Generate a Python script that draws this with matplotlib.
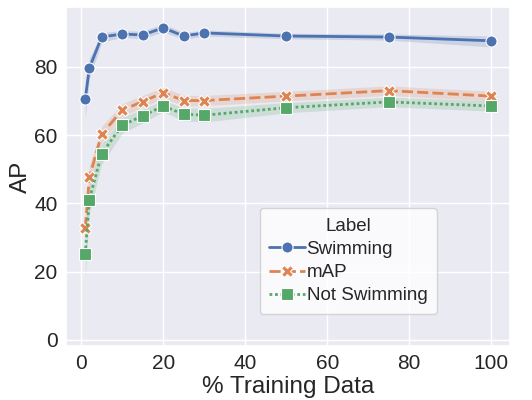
import numpy as np
import matplotlib
matplotlib.use("Agg")
import matplotlib.pyplot as plt
import seaborn as sns

# data
pct = [1, 2, 5, 10, 15, 20, 25, 30, 50, 75, 100]

swim = [70.6, 79.6, 88.7, 89.6, 89.3, 91.4, 89.0, 89.9, 89.0, 88.7, 87.6]
swim_lo = [65.0, 76.5, 87.2, 88.6, 88.2, 90.2, 88.0, 89.0, 88.2, 87.8, 85.8]
swim_hi = [75.5, 82.5, 90.0, 90.6, 90.4, 92.6, 90.0, 90.8, 89.8, 89.6, 89.0]

mAP = [32.7, 47.6, 60.2, 67.3, 69.8, 72.4, 70.1, 70.1, 71.4, 73.0, 71.4]
mAP_lo = [28.5, 44.0, 57.8, 65.5, 68.0, 70.8, 68.5, 68.6, 70.0, 71.6, 70.0]
mAP_hi = [37.0, 51.0, 62.5, 69.2, 71.6, 74.0, 71.6, 71.6, 72.8, 74.4, 72.8]

notswim = [25.2, 41.1, 54.5, 62.9, 65.6, 68.5, 66.1, 65.8, 68.0, 69.7, 68.5]
notswim_lo = [18.5, 37.0, 51.5, 60.5, 63.6, 66.8, 64.2, 63.8, 66.5, 68.3, 67.0]
notswim_hi = [31.5, 45.0, 57.5, 65.2, 67.6, 70.2, 68.0, 67.8, 69.5, 71.1, 70.0]

series = [
    ("Swimming", swim, swim_lo, swim_hi, "o", "-"),
    ("mAP", mAP, mAP_lo, mAP_hi, "X", (0, (4, 1.5))),
    ("Not Swimming", notswim, notswim_lo, notswim_hi, "s", (0, (1, 1))),
]

sns.set_theme(style="darkgrid")
plt.rcParams['font.family'] = ['Liberation Sans', 'DejaVu Sans']
colors = sns.color_palette("deep")

fig = plt.figure(figsize=(5.32, 4.0), dpi=100)
ax = fig.add_subplot(111)
fig.subplots_adjust(left=0.124, right=0.959, top=0.9825, bottom=0.135)

for i, (name, y, lo, hi, mk, ls) in enumerate(series):
    c = colors[i]
    ax.fill_between(pct, lo, hi, color=c, alpha=0.2, linewidth=0)
    ax.plot(pct, y, color=c, linestyle=ls, linewidth=2, marker=mk,
            markersize=8, markeredgecolor="white", markeredgewidth=0.8,
            label=name)

ax.set_xlim(-3.7, 104.6)
ax.set_ylim(-1.8, 97.5)
ax.set_xticks([0, 20, 40, 60, 80, 100])
ax.set_yticks([0, 20, 40, 60, 80])
ax.tick_params(labelsize=15, pad=0)
ax.set_xlabel("% Training Data", fontsize=17.5, labelpad=2)
ax.set_ylabel("AP", fontsize=17.5, labelpad=2)

leg = ax.legend(title="Label", loc="lower left", bbox_to_anchor=(0.415, 0.068),
                fontsize=13.5, title_fontsize=13.5, handlelength=1.9,
                handletextpad=0.1, borderpad=0.5, labelspacing=0.32)
leg.get_frame().set_facecolor("white")

fig.savefig("out.png", dpi=100)
